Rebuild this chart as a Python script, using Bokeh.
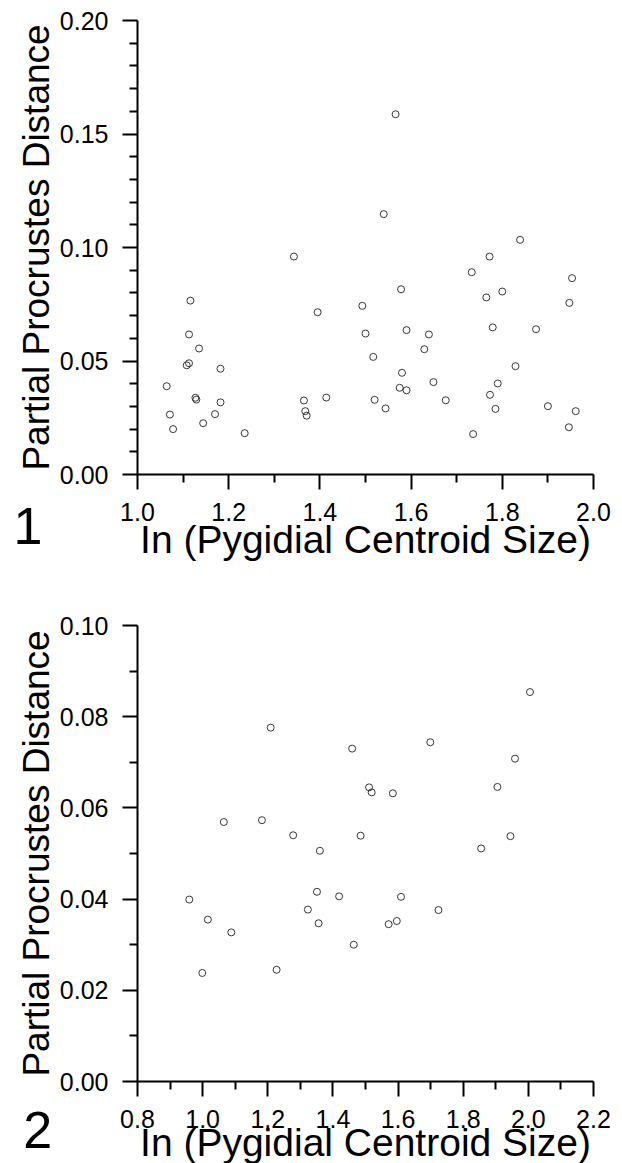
from bokeh.plotting import figure
from bokeh.layouts import column
from bokeh.models import FixedTicker, Label
from bokeh.embed import file_html
from bokeh.resources import INLINE

# ---------------- data ----------------
# Panel 1
x1 = [1.064, 1.071, 1.078, 1.116, 1.113, 1.135, 1.108, 1.113, 1.127, 1.129,
      1.182, 1.182, 1.170, 1.144, 1.235, 1.365, 1.368, 1.371, 1.395, 1.343,
      1.414, 1.493, 1.500, 1.517, 1.520, 1.544, 1.578, 1.590, 1.580, 1.575,
      1.590, 1.639, 1.629, 1.649, 1.676, 1.765, 1.800, 1.779, 1.829, 1.790,
      1.773, 1.785, 1.736, 1.874, 1.900, 1.947, 1.961, 1.946, 1.953, 1.566,
      1.540, 1.839, 1.772, 1.733]
y1 = [0.0389, 0.0264, 0.0200, 0.0766, 0.0617, 0.0555, 0.0481, 0.0490, 0.0338, 0.0330,
      0.0466, 0.0318, 0.0266, 0.0226, 0.0182, 0.0326, 0.0279, 0.0259, 0.0715, 0.0960,
      0.0339, 0.0743, 0.0621, 0.0518, 0.0329, 0.0291, 0.0816, 0.0636, 0.0448, 0.0382,
      0.0371, 0.0617, 0.0552, 0.0407, 0.0327, 0.0780, 0.0806, 0.0648, 0.0477, 0.0401,
      0.0351, 0.0289, 0.0178, 0.0640, 0.0301, 0.0756, 0.0279, 0.0208, 0.0865, 0.1587,
      0.1147, 0.1034, 0.0960, 0.0891]

# Panel 2
x2 = [0.959, 0.999, 1.016, 1.065, 1.088, 1.182, 1.209, 1.227, 1.278, 1.323,
      1.351, 1.356, 1.360, 1.419, 1.459, 1.464, 1.485, 1.511, 1.519, 1.571,
      1.584, 1.596, 1.609, 1.699, 1.724, 1.855, 1.905, 1.945, 1.959, 2.005]
y2 = [0.0399, 0.0238, 0.0355, 0.0569, 0.0327, 0.0573, 0.0776, 0.0245, 0.0540, 0.0377,
      0.0416, 0.0347, 0.0506, 0.0406, 0.0730, 0.0300, 0.0539, 0.0645, 0.0634, 0.0345,
      0.0632, 0.0352, 0.0405, 0.0744, 0.0376, 0.0511, 0.0646, 0.0538, 0.0708, 0.0854]

x1_ticks = [1.0, 1.2, 1.4, 1.6, 1.8, 2.0]
x1_labels = ["1.0", "1.2", "1.4", "1.6", "1.8", "2.0"]
x1_minor = [1.1, 1.3, 1.5, 1.7, 1.9]
y1_ticks = [0.0, 0.05, 0.10, 0.15, 0.20]
y1_labels = ["0.00", "0.05", "0.10", "0.15", "0.20"]
y1_minor = [0.01, 0.02, 0.03, 0.04, 0.06, 0.07, 0.08, 0.09,
            0.11, 0.12, 0.13, 0.14, 0.16, 0.17, 0.18, 0.19]

x2_ticks = [0.8, 1.0, 1.2, 1.4, 1.6, 1.8, 2.0, 2.2]
x2_labels = ["0.8", "1.0", "1.2", "1.4", "1.6", "1.8", "2.0", "2.2"]
x2_minor = [0.9, 1.1, 1.3, 1.5, 1.7, 1.9, 2.1]
y2_ticks = [0.0, 0.02, 0.04, 0.06, 0.08, 0.10]
y2_labels = ["0.00", "0.02", "0.04", "0.06", "0.08", "0.10"]
y2_minor = [0.01, 0.03, 0.05, 0.07, 0.09]

x_title = "In (Pygidial Centroid Size)"
y_title = "Partial Procrustes Distance"
panel_labels = ["1", "2"]

FONT = "Liberation Sans"
TICK_SIZE = "25px"
XTITLE_SIZE = "39px"
YTITLE_SIZE = "37px"
PANEL_SIZE = "52px"


def make_panel(xs, ys, xr, yr, xt, xl, xm, yt, yl, ym, height, top, bottom,
               panel_pos, panel_text, xstand, xtstand):
    p = figure(width=622, height=height, x_range=xr, y_range=yr,
               output_backend="svg", toolbar_location=None,
               min_border_left=137, min_border_right=29,
               min_border_top=top, min_border_bottom=bottom)
    p.outline_line_color = None
    p.grid.visible = False
    p.background_fill_color = "white"
    p.border_fill_color = "white"

    p.xaxis.ticker = FixedTicker(ticks=xt, minor_ticks=xm)
    p.yaxis.ticker = FixedTicker(ticks=yt, minor_ticks=ym)
    p.xaxis.major_label_overrides = {t: l for t, l in zip(xt, xl)}
    p.yaxis.major_label_overrides = {t: l for t, l in zip(yt, yl)}
    for ax in (p.xaxis, p.yaxis):
        ax.axis_line_width = 2
        ax.axis_line_color = "black"
        ax.major_tick_line_width = 2
        ax.minor_tick_line_width = 2
        ax.major_tick_line_color = "black"
        ax.minor_tick_line_color = "black"
        ax.major_tick_in = 0
        ax.minor_tick_in = 0
        ax.major_tick_out = 15
        ax.minor_tick_out = 8
        ax.major_label_text_font = FONT
        ax.major_label_text_font_size = TICK_SIZE
        ax.major_label_text_color = "black"
        ax.axis_label_text_font = FONT
        ax.axis_label_text_font_style = "normal"
        ax.axis_label_text_color = "black"
    p.xaxis.major_label_standoff = xstand
    p.yaxis.major_label_standoff = 14
    p.xaxis.axis_label = x_title
    p.xaxis.axis_label_text_font_size = XTITLE_SIZE
    p.xaxis.axis_label_standoff = xtstand
    p.yaxis.axis_label = y_title
    p.yaxis.axis_label_text_font_size = YTITLE_SIZE
    p.yaxis.axis_label_standoff = 0

    p.scatter(xs, ys, size=7, marker="circle", fill_color=None,
              line_color="#222222", line_width=0.9)

    # panel number: placed in a side panel so it is not clipped to the frame
    p.add_layout(Label(x=panel_pos[0], y=panel_pos[1], text=panel_text,
                       text_align="left", text_baseline="alphabetic",
                       text_font=FONT, text_font_size=PANEL_SIZE,
                       text_color="black"), "right")
    return p


p1 = make_panel(x1, y1, (1.0, 2.0), (0.0, 0.20),
                x1_ticks, x1_labels, x1_minor, y1_ticks, y1_labels, y1_minor,
                580, 20, 106, (0.728, -0.0225), panel_labels[0], 13, -6)
p2 = make_panel(x2, y2, (0.8, 2.2), (0.0, 0.10),
                x2_ticks, x2_labels, x2_minor, y2_ticks, y2_labels, y2_minor,
                597, 45, 96, (0.4493, -0.0107), panel_labels[1], 13, -10)

layout = column(p1, p2, spacing=0)
open("out.html", "w").write(file_html(layout, INLINE))
